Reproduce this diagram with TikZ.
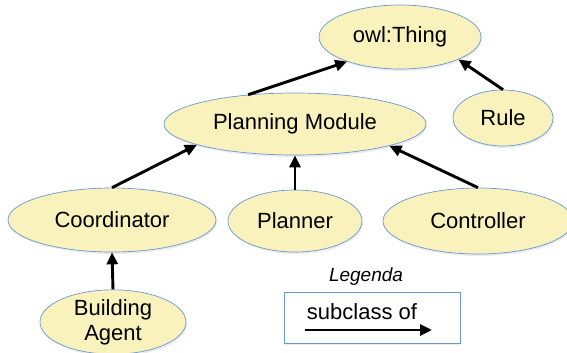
\documentclass[tikz,border=0pt]{standalone}
\usepackage{fontspec}
\setmainfont{Liberation Sans}
\usetikzlibrary{shapes.geometric,arrows.meta,shadows}
\definecolor{nodefill}{RGB}{250,242,188}
\definecolor{nodeline}{RGB}{104,152,208}
\begin{document}
\begin{tikzpicture}[x=1pt,y=-1pt,
  cls/.style={ellipse, draw=nodeline, line width=0.7pt, fill=nodefill,
    inner sep=0pt, align=center, font=\fontsize{22}{25}\selectfont,
    drop shadow={opacity=0.15, shadow xshift=1pt, shadow yshift=-2pt}},
  sub/.style={-{Triangle[length=12pt,width=11pt]}, line width=2.9pt, black}]
\useasboundingbox (0,0) rectangle (567,353);

% class hierarchy
\node[cls, minimum width=162pt, minimum height=64pt] (thing)   at (400,37)  {owl:Thing};
\node[cls, minimum width=100pt, minimum height=56pt] (rule)    at (503,118) {Rule};
\node[cls, minimum width=262pt, minimum height=62pt] (pm)      at (295,124) {Planning Module};
\node[cls, minimum width=208pt, minimum height=64pt] (coord)   at (112,220) {Coordinator};
\node[cls, minimum width=134pt, minimum height=62pt] (planner) at (295,221) {Planner};
\node[cls, minimum width=190pt, minimum height=66pt] (ctrl)    at (478,221) {Controller};
\node[cls, minimum width=146pt, minimum height=60pt] (agent)   at (113,322) {Building\\Agent};

% subclass-of relations
\draw[sub] (pm.148) -- (thing.205);
\draw[sub] (rule.north) -- (thing.339);
\draw[sub] (coord.north) -- (pm.192.5);
\draw[sub] (planner.north) -- (pm.south);
\draw[sub] (ctrl.north) -- (pm.347);
\draw[sub] (agent.north) -- (coord.south);

% legend
\node[font=\itshape\fontsize{19}{22}\selectfont] (legtitle) at (366,277) {Legenda};
\node[draw=nodeline, line width=0.7pt, fill=white, minimum width=176pt, minimum height=51pt,
  drop shadow={opacity=0.15, shadow xshift=1pt, shadow yshift=-2pt}] (legend) at (372,317.5) {};
\node[font=\fontsize{22}{25}\selectfont] (legtext) at (362,312) {subclass of};
\coordinate (la) at (305,330);
\coordinate (lb) at (432,330);
\draw[sub] (la) -- (lb);
\end{tikzpicture}
\end{document}
